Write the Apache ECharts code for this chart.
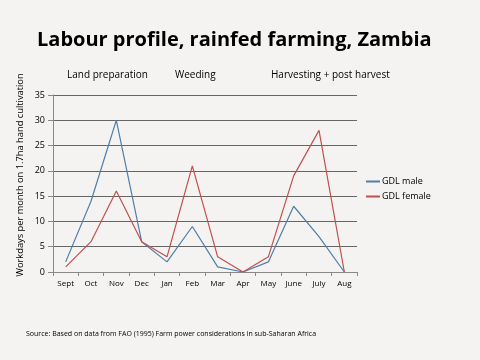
<!DOCTYPE html>
<html><head><meta charset="utf-8">
<script src="https://cdn.jsdelivr.net/npm/echarts@6/dist/echarts.min.js"></script>
<style>html,body{margin:0;padding:0;background:#f4f3f1;}#c{width:480px;height:360px;}</style>
</head><body><div id="c"></div>
<script>
var months = ['Sept','Oct','Nov','Dec','Jan','Feb','Mar','Apr','May','June','July','Aug'];
var male = [2, 14, 30, 6, 2, 9, 1, 0, 2, 13, 7, 0];
var female = [1, 6, 16, 6, 3, 21, 3, 0, 3, 19, 28, 0];
var yTicks = [0, 5, 10, 15, 20, 25, 30, 35];
var phases = ['Land preparation', 'Weeding', 'Harvesting + post harvest'];
var yName = 'Workdays per month on 1.7ha hand cultivation';

var chart = echarts.init(document.getElementById('c'), null, {renderer: 'canvas'});
var font = 'Open Sans';
chart.setOption({
  backgroundColor: '#f4f3f1',
  animation: false,
  textStyle: {fontFamily: font},
  title: [
    {text: 'Labour profile, rainfed farming, Zambia', left: 37, top: 30, padding: 0,
     textStyle: {fontSize: 20, fontWeight: 'bold', color: '#000', fontFamily: font}},
    {text: 'Source: Based on data from FAO (1995) Farm power considerations in sub-Saharan Africa', left: 26, top: 330, padding: 0,
     textStyle: {fontSize: 7, fontWeight: 'normal', color: '#000', fontFamily: font}}
  ],
  graphic: [
    {type: 'text', left: 67, top: 70, style: {text: phases[0], fontSize: 10, fill: '#000', fontFamily: font}},
    {type: 'text', left: 175, top: 70, style: {text: phases[1], fontSize: 10, fill: '#000', fontFamily: font}},
    {type: 'text', left: 271, top: 70, style: {text: phases[2], fontSize: 10, fill: '#000', fontFamily: font}},
    {type: 'text', x: 20, y: 175, rotation: Math.PI / 2,
     style: {text: yName, fontSize: 9.3, fill: '#000', fontFamily: font, align: 'center', verticalAlign: 'middle'}}
  ],
  legend: {
    orient: 'vertical', left: 366, top: 177, itemWidth: 14, itemHeight: 2, itemGap: 6, padding: 0,
    icon: 'rect',
    textStyle: {fontSize: 9, color: '#000', fontFamily: font, padding: [0, 0, 0, -3]},
    data: ['GDL male', 'GDL female']
  },
  grid: {left: 53, top: 95, width: 304, height: 177, containLabel: false},
  xAxis: {
    type: 'category', data: months, boundaryGap: true,
    axisLine: {lineStyle: {color: '#888'}},
    axisTick: {show: true, alignWithLabel: false, length: 4, lineStyle: {color: '#888'}},
    axisLabel: {fontSize: 8, color: '#000', margin: 8, interval: 0}
  },
  yAxis: {
    type: 'value', min: 0, max: 35, interval: 5,
    axisLine: {show: true, lineStyle: {color: '#888'}},
    axisTick: {show: true, length: 5, lineStyle: {color: '#888'}},
    axisLabel: {fontSize: 9, color: '#000', margin: 8,
      formatter: function (v) { return yTicks.indexOf(v) >= 0 ? String(v) : ''; }},
    splitLine: {show: true, lineStyle: {color: '#666', width: 1}}
  },
  series: [
    {name: 'GDL male', type: 'line', data: male, symbol: 'none', color: '#4f7ea8',
     lineStyle: {width: 1.2, color: '#4f7ea8'}},
    {name: 'GDL female', type: 'line', data: female, symbol: 'none', color: '#c0504d',
     lineStyle: {width: 1.2, color: '#c0504d'}}
  ]
});
</script></body></html>
